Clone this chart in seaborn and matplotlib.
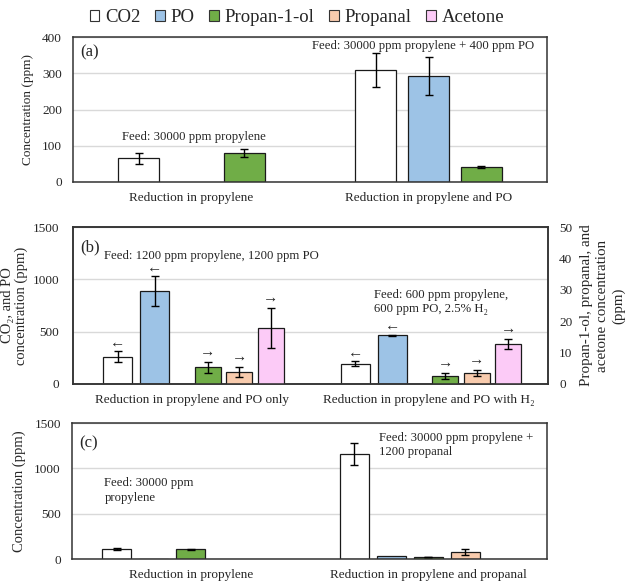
import numpy as np
import pandas as pd
import matplotlib
matplotlib.use("Agg")
import matplotlib.pyplot as plt
from matplotlib.patches import Patch
import seaborn as sns

# ---------------- data ----------------
species = ["CO2", "PO", "Propan-1-ol", "Propanal", "Acetone"]
colors = ["#FFFFFF", "#9DC3E6", "#70AD47", "#F8CBAD", "#FCCBF7"]

# panel (a)
groups_a = ["Reduction in propylene", "Reduction in propylene and PO"]
a_group = [0, 0, 1, 1, 1]
a_species = ["CO2", "Propan-1-ol", "CO2", "PO", "Propan-1-ol"]
a_value = [65, 79, 310, 292, 42]
a_err = [15, 11, 47, 52, 3]

# panel (b) left axis (CO2, PO)
groups_b = ["Reduction in propylene and PO only", "Reduction in propylene and PO with H\u2082"]
b1_group = [0, 0, 1, 1]
b1_species = ["CO2", "PO", "CO2", "PO"]
b1_value = [262, 887, 195, 466]
b1_err = [50, 143, 20, 3]
# panel (b) right axis (Propan-1-ol, Propanal, Acetone)
b2_group = [0, 0, 0, 1, 1, 1]
b2_species = ["Propan-1-ol", "Propanal", "Acetone", "Propan-1-ol", "Propanal", "Acetone"]
b2_value = [5.3, 3.7, 17.8, 2.55, 3.4, 12.8]
b2_err = [1.8, 1.6, 6.4, 0.9, 1.0, 1.5]

# panel (c)
groups_c = ["Reduction in propylene", "Reduction in propylene and propanal"]
c_group = [0, 0, 0, 1, 1, 1, 1]
c_species = ["CO2", "PO", "Propan-1-ol", "CO2", "PO", "Propan-1-ol", "Propanal"]
c_value = [110, 5, 107, 1157, 29, 22, 74]
c_err = [12, 0, 4, 125, 0, 5, 33]

# ---------------- style ----------------
sns.set_style("white")
plt.rcParams["font.family"] = ["Liberation Serif", "DejaVu Serif"]
plt.rcParams["font.size"] = 9

pal = dict(zip(species, colors))
for d in ["_d1", "_d2", "_d3"]:
    pal[d] = "#FFFFFF"

EDGE = "#1a1a1a"
FRAME = "#333333"
W, H = 628, 583

fig = plt.figure(figsize=(6.28, 5.83), dpi=100)
ax_a = fig.add_axes([73 / W, 1 - 182 / H, 474 / W, 145 / H])
ax_b = fig.add_axes([73 / W, 1 - 384 / H, 475 / W, 157 / H])
ax_c = fig.add_axes([72 / W, 1 - 559 / H, 475 / W, 136 / H])


def make_df(groups, gidx, sp, val, err):
    return pd.DataFrame({"group": [groups[i] for i in gidx], "gi": gidx,
                         "species": sp, "value": val, "err": err})


def draw(ax, df, groups, hue_order, width, gap):
    sns.barplot(data=df, x="group", y="value", hue="species", order=groups,
                hue_order=hue_order, palette=pal, width=width, gap=gap,
                errorbar=None, legend=False, edgecolor=EDGE, linewidth=0.9,
                saturation=1, ax=ax)
    bars = []
    for p in ax.patches:
        h = p.get_height()
        if np.isnan(h):
            continue
        xc = p.get_x() + p.get_width() / 2
        gi = int(round(xc))
        row = df[(df["gi"] == gi) & np.isclose(df["value"], h)]
        if len(row) == 0:
            continue
        e = float(row["err"].iloc[0])
        if e > 0:
            ax.errorbar(xc, h, yerr=e, fmt="none", ecolor="black",
                        elinewidth=1, capsize=3.2, capthick=1, zorder=5)
        bars.append((xc, h, e))
    return bars


def style(ax, ylim, yticks, grid=True, ypad=8):
    ax.set_ylim(*ylim)
    ax.set_yticks(yticks)
    ax.set_xlim(-0.5, 1.5)
    if grid:
        ax.yaxis.grid(True, color="#D9D9D9", linewidth=1)
        ax.set_axisbelow(True)
    ax.tick_params(axis="both", length=0, labelsize=9.5)
    ax.tick_params(axis="y", pad=ypad)
    ax.tick_params(axis="x", pad=7, labelsize=9.5)
    for s in ax.spines.values():
        s.set_color(FRAME)
        s.set_linewidth(1.1)
    ax.set_xlabel("")
    ax.set_ylabel("")


ANN = 9.2

# ---- (a)
df_a = make_df(groups_a, a_group, a_species, a_value, a_err)
draw(ax_a, df_a, groups_a, ["CO2", "PO", "Propan-1-ol"], 0.667, 0.225)
style(ax_a, (0, 400), [0, 100, 200, 300, 400])
ax_a.set_ylabel("Concentration (ppm)", fontsize=9.5, labelpad=6)
ax_a.text(0.015, 0.897, "(a)", transform=ax_a.transAxes, fontsize=12, va="center")
ax_a.text(0.01, 124, "Feed: 30000 ppm propylene", ha="center", va="center", fontsize=ANN)
ax_a.text(0.978, 374, "Feed: 30000 ppm propylene + 400 ppm PO", ha="center", va="center", fontsize=ANN)

# ---- (b)
df_b1 = make_df(groups_b, b1_group, b1_species, b1_value, b1_err)
df_b2 = make_df(groups_b, b2_group, b2_species, b2_value, b2_err)
bars_b1 = draw(ax_b, df_b1, groups_b, ["CO2", "PO", "_d1", "_d2", "_d3"], 0.78, 0.22)
style(ax_b, (0, 1500), [0, 500, 1000, 1500], ypad=10)
ax_b2 = ax_b.twinx()
bars_b2 = draw(ax_b2, df_b2, groups_b, ["_d1", "_d2", "_d3", "Propan-1-ol", "Propanal", "Acetone"], 0.8, 0.18)
style(ax_b2, (0, 50), [0, 10, 20, 30, 40, 50], grid=False)
ax_b2.set_xlim(-0.5, 1.5)
yc_b = 1 - 305.5 / H
fig.text(15 / W, yc_b, "CO\u2082, and PO\nconcentration (ppm)", fontsize=10.5,
         rotation=90, ha="center", va="center", linespacing=1.05)
fig.text(603 / W, yc_b, "Propan-1-ol, propanal, and\nacetone concentration\n(ppm)", fontsize=10.8,
         rotation=90, ha="center", va="center", linespacing=1.3)
ax_b.text(0.015, 0.873, "(b)", transform=ax_b.transAxes, fontsize=12, va="center")
ax_b.text(-0.369, 1223, "Feed: 1200 ppm propylene, 1200 ppm PO", ha="left", va="center", fontsize=ANN)
ax_b.text(0.768, 783, "Feed: 600 ppm propylene,\n600 ppm PO, 2.5% H\u2082", ha="left", va="center",
          fontsize=ANN, linespacing=1.3)
for xc, h, e in bars_b1:
    ax_b.annotate("\u2190", (xc, h + e), xytext=(0, 6), textcoords="offset points",
                  ha="center", va="center", fontsize=11)
for xc, h, e in bars_b2:
    ax_b2.annotate("\u2192", (xc, h + e), xytext=(0, 7), textcoords="offset points",
                   ha="center", va="center", fontsize=11)

# ---- (c)
df_c = make_df(groups_c, c_group, c_species, c_value, c_err)
draw(ax_c, df_c, groups_c, species, 0.78, 0.22)
style(ax_c, (0, 1500), [0, 500, 1000, 1500])
ax_c.set_ylabel("Concentration (ppm)", fontsize=10.5, labelpad=6)
ax_c.text(0.015, 0.853, "(c)", transform=ax_c.transAxes, fontsize=12, va="center")
ax_c.text(-0.364, 755, "Feed: 30000 ppm\npropylene", ha="left", va="center", fontsize=ANN, linespacing=1.3)
ax_c.text(0.793, 1257, "Feed: 30000 ppm propylene +\n1200 propanal", ha="left", va="center",
          fontsize=ANN, linespacing=1.3)

# ---- legend
handles = [Patch(facecolor=c, edgecolor="#333333", linewidth=0.8, label=s) for s, c in zip(species, colors)]
fig.legend(handles=handles, loc="upper center", bbox_to_anchor=(297 / W, 1.0), ncol=5,
           frameon=False, fontsize=13.5, handlelength=0.5, handleheight=0.5,
           handletextpad=0.3, columnspacing=0.8, borderaxespad=0.1)

fig.savefig("out.png", dpi=100)
